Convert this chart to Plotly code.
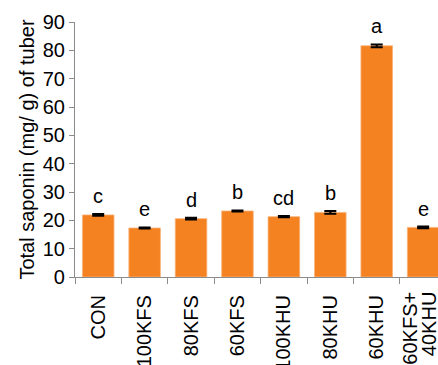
import plotly.graph_objects as go

categories = ["CON", "100KFS", "80KFS", "60KFS", "100KHU", "80KHU", "60KHU", "60KFS+ 40KHU"]
tick_labels = ["CON", "100KFS", "80KFS", "60KFS", "100KHU", "80KHU", "60KHU", ""]
last_label_lines = ["60KFS+", "40KHU"]
values = [21.9, 17.3, 20.6, 23.3, 21.3, 22.8, 81.6, 17.5]
errors = [0.3, 0.2, 0.3, 0.2, 0.2, 0.5, 0.5, 0.3]
letters = ["c", "e", "d", "b", "cd", "b", "a", "e"]
y_ticks = [0, 10, 20, 30, 40, 50, 60, 70, 80, 90]

FONT = "Liberation Sans, Arial, sans-serif"
ORANGE = "#F58220"

fig = go.Figure()
fig.add_trace(go.Bar(
    x=categories, y=values,
    marker=dict(color=ORANGE, line=dict(color="#F9B27A", width=0.8)),
    width=0.68,
    error_y=dict(type="data", array=errors, color="black", thickness=2, width=6, visible=True),
    showlegend=False,
))

for c, v, e, t in zip(categories, values, errors, letters):
    fig.add_annotation(x=c, y=v + e, text=t, showarrow=False, yanchor="bottom",
                       yshift=5, font=dict(family=FONT, size=20, color="black"))

# two-line label of the last category, lines set close together
for line, dx in zip(last_label_lines, [-14, 6]):
    fig.add_annotation(x=categories[-1], xref="x", y=0, yref="paper", text=line,
                       showarrow=False, textangle=-90, xanchor="center", yanchor="top",
                       xshift=dx, yshift=-13, font=dict(family=FONT, size=20, color="black"))

fig.update_layout(
    width=438, height=365,
    margin=dict(l=75, r=0, t=22, b=88),
    paper_bgcolor="white", plot_bgcolor="white",
    font=dict(family=FONT, size=20, color="black"),
    bargap=0.32,
)
fig.update_xaxes(
    range=[-0.5, 7.32], tickangle=-90, showline=True, linecolor="#8c8c8c", linewidth=1.2,
    ticks="outside", tickson="boundaries", ticklen=6, tickcolor="#8c8c8c",
    tickvals=categories, ticktext=tick_labels,
    ticklabelstandoff=9, automargin=False,
    tickfont=dict(family=FONT, size=20, color="black"), showgrid=False,
)
fig.update_yaxes(
    range=[0, 90], tickvals=y_ticks, showline=True, linecolor="#8c8c8c", linewidth=1.2,
    ticks="outside", ticklen=5, tickcolor="#8c8c8c", showgrid=False, zeroline=False,
    automargin=False,
    tickfont=dict(family=FONT, size=20, color="black"),
    title=dict(text="Total saponin (mg/ g) of tuber", font=dict(family=FONT, size=20, color="black"), standoff=2),
)

fig.write_html("out.html")
